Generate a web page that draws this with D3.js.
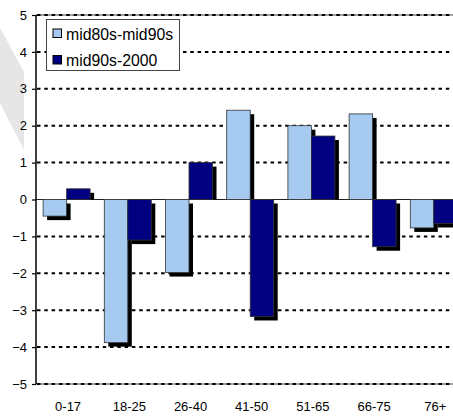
<!DOCTYPE html>
<html><head><meta charset="utf-8">
<script src="https://cdn.jsdelivr.net/npm/d3@7"></script>
<style>body{margin:0;background:#fff}svg{display:block}</style>
</head><body>
<script>
const categories = ["0-17","18-25","26-40","41-50","51-65","66-75","76+"];
const seriesNames = ["mid80s-mid90s","mid90s-2000"];
const mid80sMid90s = [-0.45,-3.88,-1.98,2.42,2.0,2.32,-0.77];
const mid90s2000 = [0.29,-1.1,1.0,-3.17,1.72,-1.28,-0.65];
const yTicks = [-5,-4,-3,-2,-1,0,1,2,3,4,5];
const colors = ["#a6caf0","#000080"];

const W=453,H=417;
const svg=d3.select("body").append("svg").attr("width",W).attr("height",H);
const font="'Liberation Sans', Arial, sans-serif";

// watermark shape
svg.append("polygon").attr("points","0,28 24,72 24,150 0,103").attr("fill","#e6e6e6");

const x=d3.scaleBand().domain(categories).range([36,464.4]).padding(0);
const y=d3.scaleLinear().domain([-5,5]).range([384,15]);
const bw=23.5, sh=4;

// grid
const g=svg.append("g");
g.selectAll("line.border").data([5,-5]).enter().append("line")
 .attr("x1",36).attr("x2",W).attr("y1",d=>y(d)).attr("y2",d=>y(d))
 .attr("stroke","#808080").attr("stroke-width",1.5);
g.selectAll("line.grid").data(yTicks.filter(d=>d!==0)).enter().append("line")
 .attr("x1",37).attr("x2",W).attr("y1",d=>y(d)).attr("y2",d=>y(d))
 .attr("stroke","#000").attr("stroke-width",2).attr("stroke-dasharray","3.5,3.8");

// zero line
svg.append("line").attr("x1",36).attr("x2",W).attr("y1",y(0)).attr("y2",y(0))
 .attr("stroke","#222").attr("stroke-width",1);

// bars
const series=[mid80sMid90s,mid90s2000];
series.forEach((vals,si)=>{
  const gg=svg.append("g");
  const bx=(d,i)=>x(categories[i])+x.bandwidth()/2-bw+si*bw;
  gg.selectAll("rect.s").data(vals).enter().append("rect")
   .attr("x",(d,i)=>bx(d,i)+sh)
   .attr("y",d=>d>=0 ? y(d)+sh : y(0)+sh)
   .attr("width",bw)
   .attr("height",d=>d>=0 ? Math.max(0,y(0)-y(d)-sh) : y(d)-y(0))
   .attr("fill","#000");
  gg.selectAll("rect.b").data(vals).enter().append("rect")
   .attr("x",(d,i)=>bx(d,i)).attr("y",d=>Math.min(y(d),y(0)))
   .attr("width",bw).attr("height",d=>Math.abs(y(d)-y(0)))
   .attr("fill",colors[si]).attr("stroke","#333").attr("stroke-width",0.8);
});

// y axis
const ya=svg.append("g").attr("transform","translate(36,0)")
 .call(d3.axisLeft(y).tickValues(yTicks).tickSize(4).tickPadding(5).tickFormat(d3.format("d")));
ya.select(".domain").attr("stroke","#000").attr("stroke-width",1.5).attr("d","M0,"+y(5)+"V"+y(-5));
ya.selectAll(".tick line").attr("stroke","#000").attr("stroke-width",1.2);
ya.selectAll("text").attr("font-family",font).attr("font-size","13px").attr("fill","#000");

// x labels
const xa=svg.append("g").attr("transform","translate(0,384)")
 .call(d3.axisBottom(x).tickSize(0).tickPadding(18));
xa.select(".domain").remove();
xa.selectAll("text").attr("font-family",font).attr("font-size","13px").attr("fill","#000").attr("dx","1.5");

// legend
const lg=svg.append("g");
lg.append("rect").attr("x",46.5).attr("y",19.5).attr("width",133).attr("height",51)
 .attr("fill","#fff").attr("stroke","#444").attr("stroke-width",1);
seriesNames.forEach((n,i)=>{
  lg.append("rect").attr("x",53).attr("y",29+i*26.5).attr("width",8.5).attr("height",8.5)
   .attr("fill",colors[i]).attr("stroke","#000").attr("stroke-width",1);
  lg.append("text").attr("x",66).attr("y",39.5+i*26).text(n)
   .attr("font-family",font).attr("font-size","15.8px").attr("fill","#000");
});
</script>
</body></html>
